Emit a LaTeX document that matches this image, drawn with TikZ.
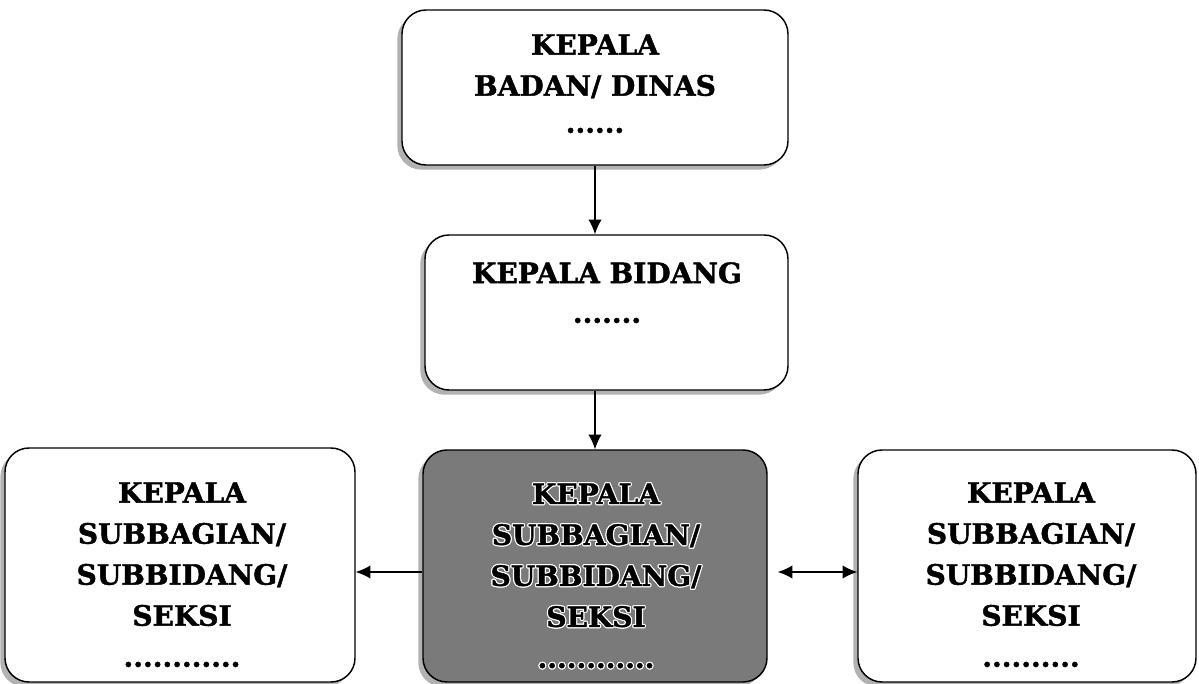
\documentclass[tikz,border=0pt]{standalone}
\usepackage{fontspec}
\setmainfont{DejaVu Serif}[BoldFeatures={FakeBold=1.5}]
\usetikzlibrary{arrows.meta,shadows}
\newcommand{\hl}[1]{\leavevmode\rlap{\color{white}\raisebox{0.9pt}{#1}}\rlap{\color{white}\raisebox{-0.9pt}{#1}}\rlap{\color{white}\hspace{0.9pt}#1}\rlap{\color{white}\hspace{-0.9pt}#1}\rlap{\color{white}\hspace{0.65pt}\raisebox{0.65pt}{#1}}\rlap{\color{white}\hspace{-0.65pt}\raisebox{-0.65pt}{#1}}\rlap{\color{white}\hspace{0.65pt}\raisebox{-0.65pt}{#1}}\rlap{\color{white}\hspace{-0.65pt}\raisebox{0.65pt}{#1}}#1}
\tikzset{
  box/.style={draw=black, line width=1.1pt, rounded corners=18pt, fill=white, inner sep=0pt,
    drop shadow={shadow xshift=-3.5pt, shadow yshift=-3.5pt, fill=gray!60, opacity=1}},
  lbl/.style={anchor=north, inner sep=0pt, align=center, font=\bfseries\fontsize{21}{30.75}\selectfont},
  arr/.style={line width=1pt, -{Latex[length=11pt,width=10pt]}},
  darr/.style={line width=1pt, {Latex[length=11pt,width=10pt]}-{Latex[length=11pt,width=10pt]}},
}
\begin{document}
\begin{tikzpicture}[x=0.75pt,y=-0.75pt]
\useasboundingbox (0,0) rectangle (1199,684);
% boxes
\node[box, minimum width=289.5pt, minimum height=116.25pt] (top) at (595,87.5) {};
\node[box, minimum width=272.25pt, minimum height=116.25pt] (mid) at (606.5,312.5) {};
\node[box, minimum width=262.5pt, minimum height=175.5pt] (lft) at (180,565) {};
\node[box, fill=black!52, minimum width=258pt, minimum height=174pt] (cen) at (595,566) {};
\node[box, minimum width=253.5pt, minimum height=174pt] (rgt) at (1027,566) {};
% texts
\node[lbl] (ttop) at (595,34) {KEPALA\\BADAN/ DINAS\\[-3pt]......};
\node[lbl] (tmid) at (607,262) {KEPALA BIDANG\\[-1pt].......};
\node[lbl] (tlft) at (182,482) {KEPALA\\SUBBAGIAN/\\SUBBIDANG/\\SEKSI\\............};
\node[lbl] (tcen) at (596,482) {\hl{KEPALA}\\\hl{SUBBAGIAN/}\\\hl{SUBBIDANG/}\\\hl{SEKSI}\\\hl{............}};
\node[lbl] (trgt) at (1031,482) {KEPALA\\SUBBAGIAN/\\SUBBIDANG/\\SEKSI\\..........};
% connectors
\draw[arr] (top.south) -- (top.south |- mid.north);
\draw[arr] (top.south |- mid.south) -- (top.south |- cen.north);
\coordinate (la) at ([yshift=-4.5pt]cen.west);
\draw[arr] (la) -- (la -| lft.east);
\coordinate (ra) at ([xshift=7.5pt,yshift=-4.5pt]cen.east);
\draw[darr] (ra) -- (ra -| rgt.west);
\end{tikzpicture}
\end{document}
